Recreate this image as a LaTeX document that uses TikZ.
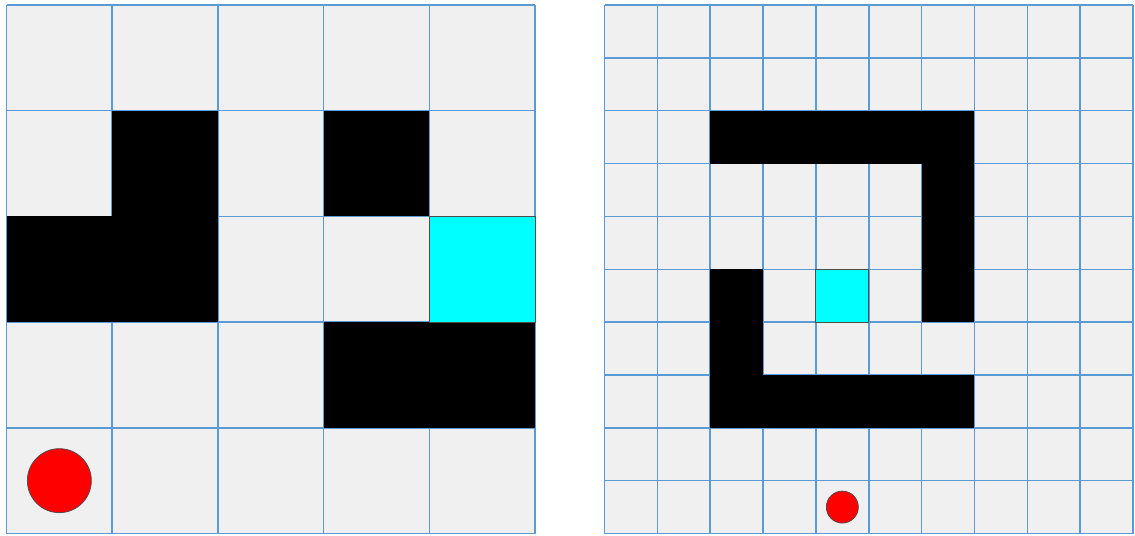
\documentclass[tikz,border=0pt]{standalone}
\begin{document}
\begin{tikzpicture}[x=0.02cm,y=-0.02cm,
  gridline/.style={draw=gridblue,line width=0.03cm},
  wall/.style={fill=black},
  goal/.style={fill=goalcyan,draw=black!70,line width=0.02cm},
  agent/.style={circle,fill=agentred,draw=black!70,line width=0.015cm,inner sep=0pt}]
\definecolor{gridblue}{RGB}{91,155,213}
\definecolor{cellgray}{RGB}{240,240,240}
\definecolor{goalcyan}{RGB}{0,255,255}
\definecolor{agentred}{RGB}{255,0,0}
\useasboundingbox (0,0) rectangle (1135,535);
\fill[white] (0,0) rectangle (1135,535);
% ---- left grid 5x5
\begin{scope}[shift={(6.5,5)}]
  \def\c{105.7}
  \fill[cellgray] (0,0) rectangle (5*\c,5*\c);
  \foreach \i in {0,...,5} {
    \draw[gridline] (\i*\c,0) -- (\i*\c,5*\c);
    \draw[gridline] (0,\i*\c) -- (5*\c,\i*\c);
  }
  \fill[wall] (1*\c,1*\c) rectangle (2*\c,3*\c);
  \fill[wall] (0,2*\c) rectangle (1*\c,3*\c);
  \fill[wall] (3*\c,1*\c) rectangle (4*\c,2*\c);
  \fill[wall] (3*\c,3*\c) rectangle (5*\c,4*\c);
  \draw[goal] (4*\c,2*\c) rectangle (5*\c,3*\c);
  \node[agent,minimum size=1.28cm] (agentL) at (0.5*\c,4.5*\c) {};
\end{scope}
% ---- right grid 10x10
\begin{scope}[shift={(604.5,5)}]
  \def\c{52.85}
  \fill[cellgray] (0,0) rectangle (10*\c,10*\c);
  \foreach \i in {0,...,10} {
    \draw[gridline] (\i*\c,0) -- (\i*\c,10*\c);
    \draw[gridline] (0,\i*\c) -- (10*\c,\i*\c);
  }
  \fill[wall] (2*\c,2*\c) rectangle (7*\c,3*\c);
  \fill[wall] (6*\c,3*\c) rectangle (7*\c,6*\c);
  \fill[wall] (2*\c,5*\c) rectangle (3*\c,7*\c);
  \fill[wall] (2*\c,7*\c) rectangle (7*\c,8*\c);
  \draw[goal] (4*\c,5*\c) rectangle (5*\c,6*\c);
  \node[agent,minimum size=0.64cm] (agentR) at (4.5*\c,9.5*\c) {};
\end{scope}
\end{tikzpicture}
\end{document}
